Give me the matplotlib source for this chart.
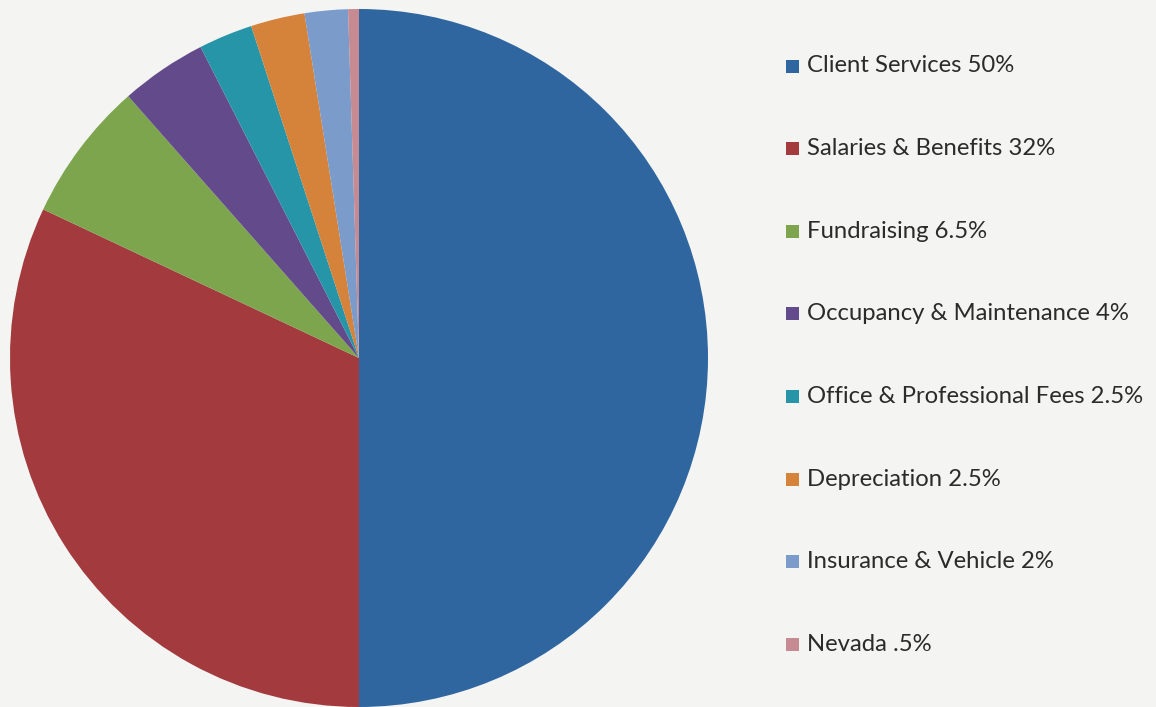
import matplotlib
matplotlib.use("Agg")
import matplotlib.pyplot as plt
from matplotlib.patches import Rectangle

categories = ["Client Services", "Salaries & Benefits", "Fundraising",
              "Occupancy & Maintenance", "Office & Professional Fees",
              "Depreciation", "Insurance & Vehicle", "Nevada"]
values = [50, 32, 6.5, 4, 2.5, 2.5, 2, 0.5]
pct_labels = ["50%", "32%", "6.5%", "4%", "2.5%", "2.5%", "2%", ".5%"]
colors = ["#2F66A0", "#A23A3E", "#7DA54E", "#634A8A", "#2795A8",
          "#D5823B", "#7B9BCB", "#C68B92"]

W, H = 1156, 707
fig = plt.figure(figsize=(W / 100, H / 100), dpi=100)
fig.patch.set_facecolor("#F4F4F3")

cx, cy, r = 359, 358, 349
ax = fig.add_axes([(cx - r) / W, (H - cy - r) / H, 2 * r / W, 2 * r / H])
ax.pie(values, colors=colors, startangle=90, counterclock=False,
       wedgeprops=dict(linewidth=0))
ax.set_xlim(-1, 1)
ax.set_ylim(-1, 1)
ax.set_aspect("equal")
ax.axis("off")

y0, dy = 66, 82.6
for i, (cat, pl, col) in enumerate(zip(categories, pct_labels, colors)):
    y = y0 + i * dy
    fig.patches.append(Rectangle((786 / W, (H - y - 6.5) / H), 13 / W, 13 / H,
                                 transform=fig.transFigure, facecolor=col,
                                 edgecolor="none"))
    fig.text(807 / W, (H - y) / H, f"{cat} {pl}", fontsize=17.2, family="Lato",
             color="#2B2B2B", va="center", ha="left")

fig.savefig("out.png", dpi=100, facecolor=fig.get_facecolor())
